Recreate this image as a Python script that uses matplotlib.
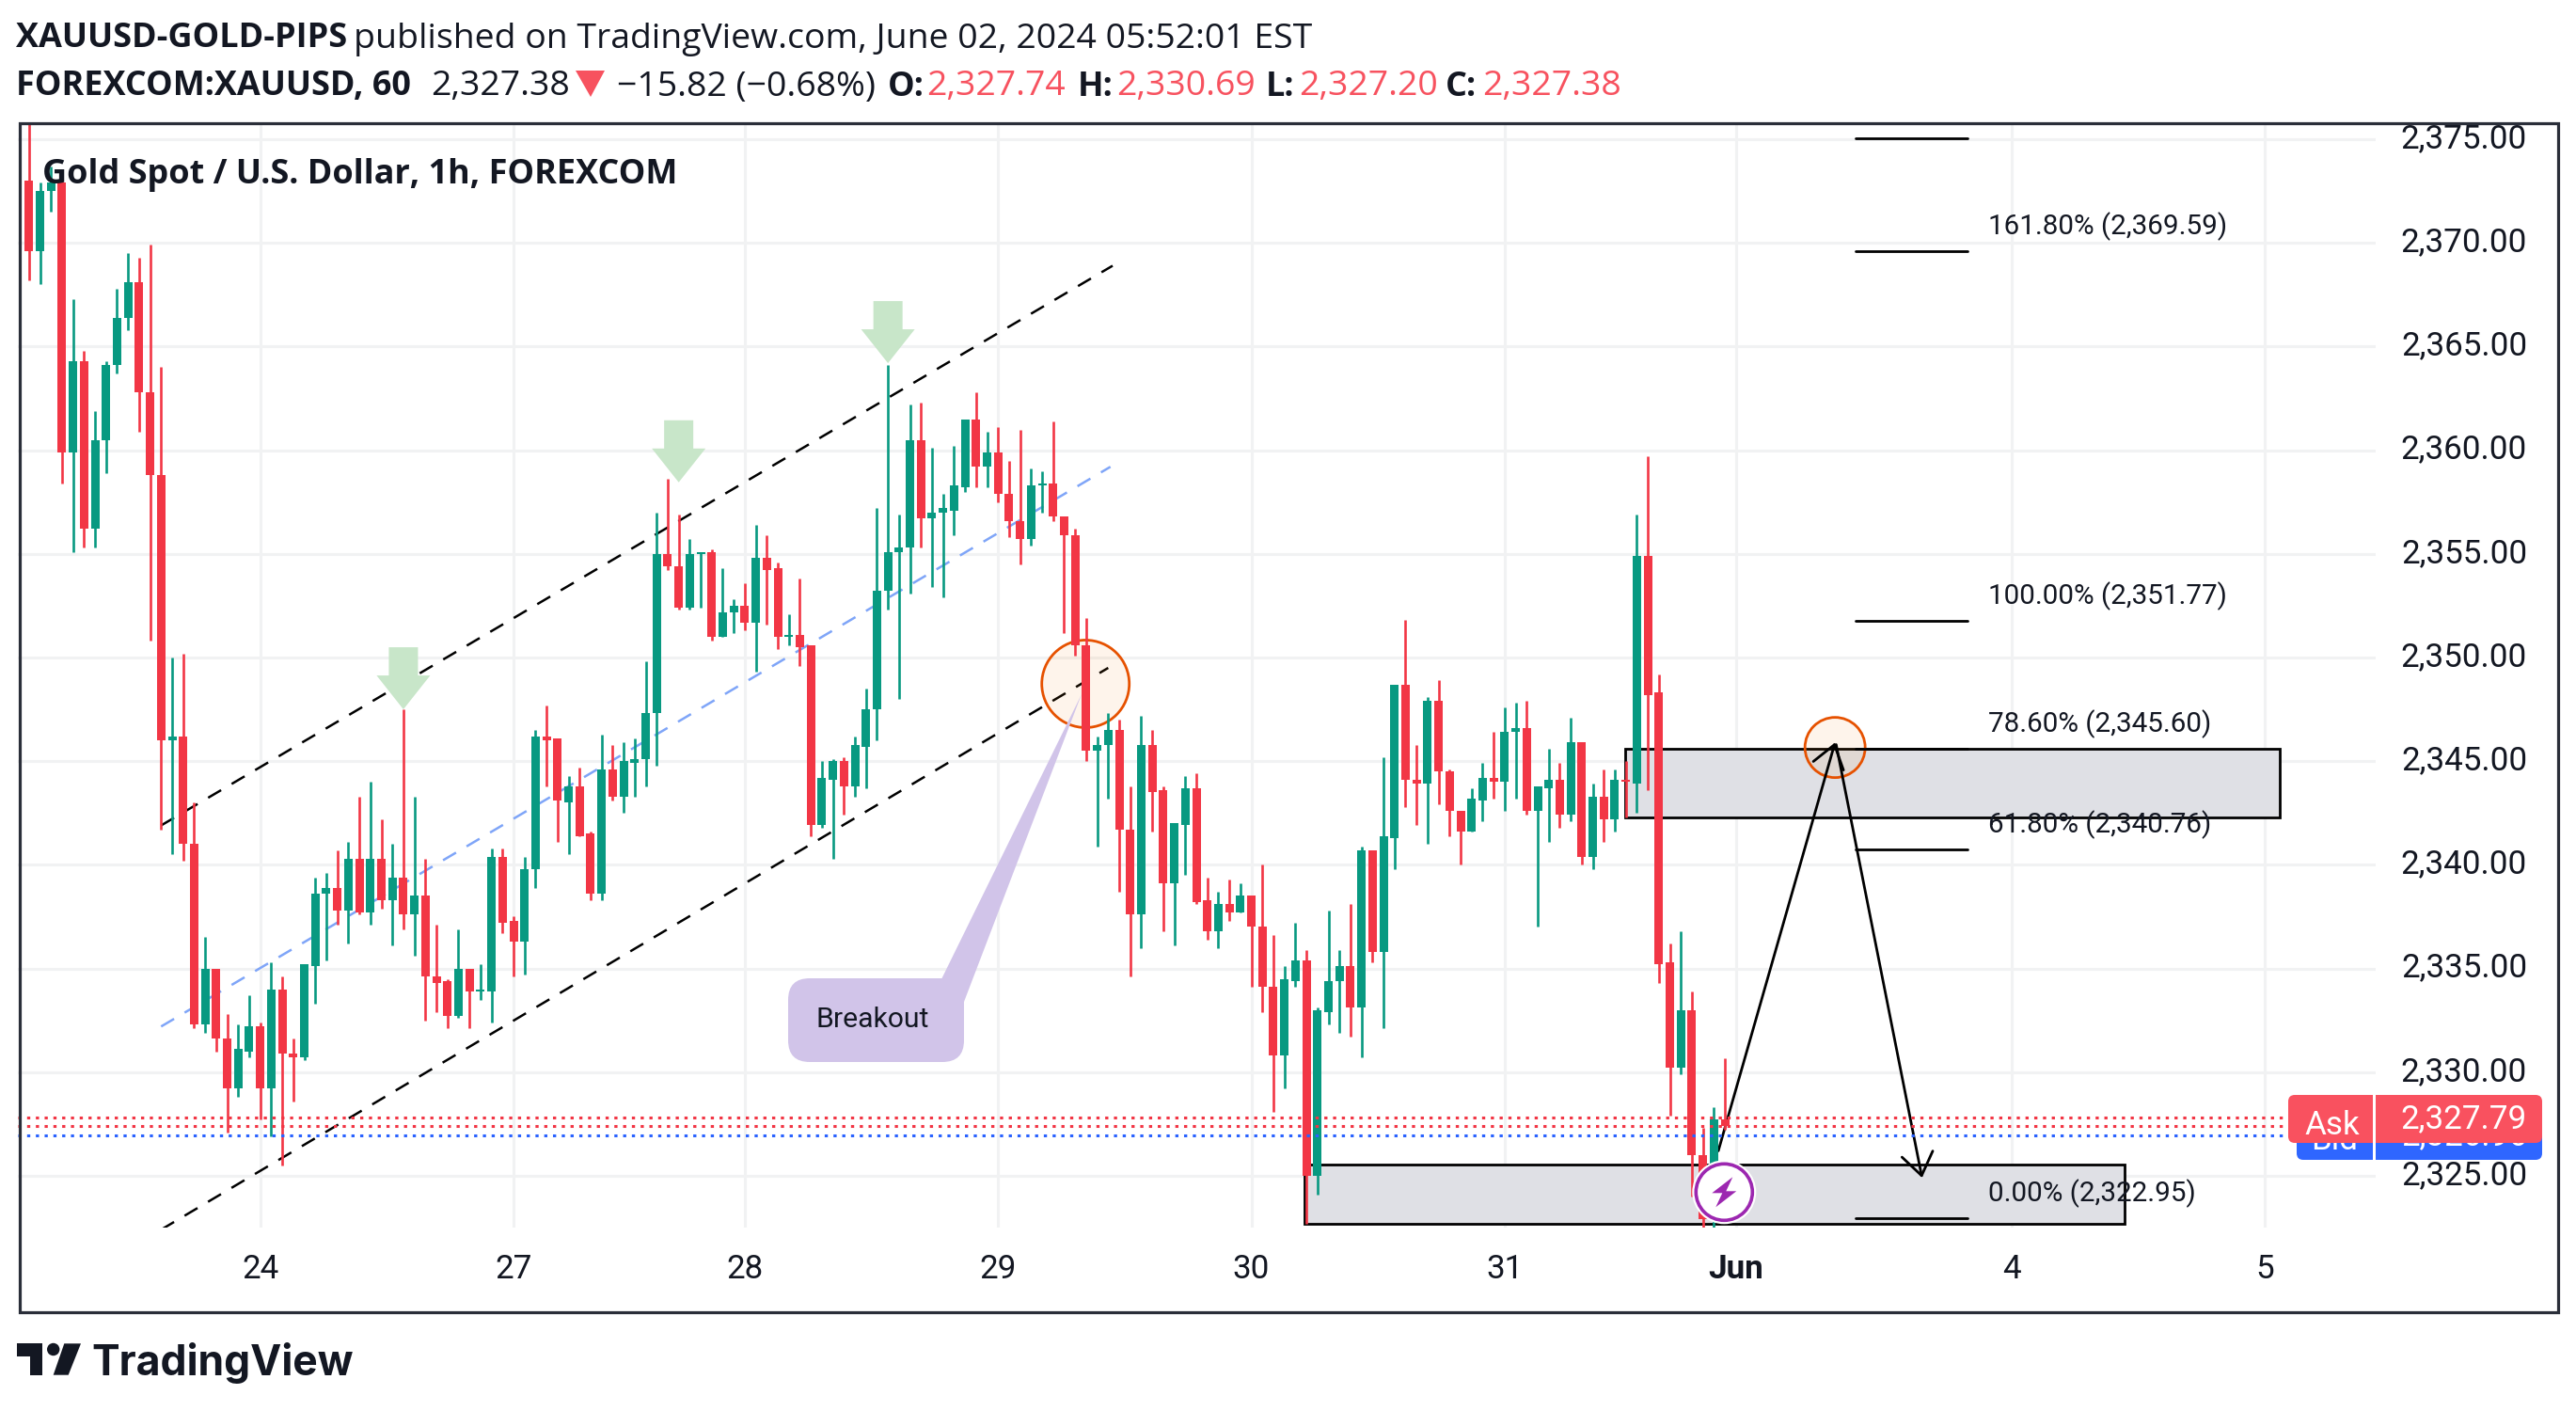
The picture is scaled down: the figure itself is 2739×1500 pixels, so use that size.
import numpy as np
import matplotlib
matplotlib.use('Agg')
import matplotlib.pyplot as plt
from matplotlib.patches import Rectangle, Ellipse, Polygon, FancyBboxPatch, Circle
from matplotlib.transforms import Affine2D

# hourly candles
opens = [2381.0, 2373.0, 2369.6, 2372.5, 2372.9, 2359.9, 2364.3, 2356.2, 2360.5, 2364.1,
         2366.4, 2368.1, 2362.8, 2358.8, 2346.0, 2346.2, 2341.0, 2332.3, 2335.0, 2331.6,
         2329.2, 2331.0, 2332.2, 2329.2, 2334.0, 2330.9, 2330.7, 2335.1, 2338.6, 2338.9,
         2337.8, 2340.3, 2337.7, 2340.3, 2338.3, 2339.4, 2337.6, 2338.5, 2334.6, 2334.4,
         2332.7, 2335.0, 2333.9, 2333.9, 2340.4, 2337.3, 2336.3, 2339.8, 2346.2, 2346.1,
         2343.0, 2343.8, 2341.5, 2338.6, 2344.6, 2343.3, 2344.9, 2345.1, 2347.3, 2355.0,
         2354.4, 2352.4, 2355.0, 2355.1, 2351.0, 2352.2, 2352.5, 2351.7, 2354.8, 2354.3,
         2351.0, 2351.1, 2350.6, 2341.9, 2344.1, 2345.0, 2343.8, 2345.7, 2347.5, 2353.2,
         2355.1, 2355.3, 2360.5, 2356.7, 2357.0, 2357.1, 2358.2, 2361.5, 2359.2, 2359.9,
         2357.9, 2356.6, 2355.7, 2358.3, 2358.4, 2356.8, 2355.9, 2350.6, 2345.5, 2345.8,
         2346.5, 2341.7, 2337.6, 2345.8, 2343.6, 2339.1, 2341.9, 2343.7, 2338.3, 2336.8,
         2338.1, 2337.7, 2338.5, 2337.0, 2334.1, 2330.8, 2334.4, 2335.4, 2325.0, 2332.9,
         2334.4, 2335.1, 2333.1, 2340.7, 2335.8, 2341.3, 2348.7, 2344.1, 2343.9, 2347.9,
         2344.5, 2342.6, 2341.6, 2343.1, 2344.2, 2344.0, 2346.4, 2346.6, 2342.6, 2343.7,
         2344.1, 2342.4, 2345.9, 2340.4, 2343.3, 2342.2, 2344.1, 2343.9, 2354.9, 2348.3,
         2335.3, 2330.2, 2333.0, 2326.0, 2324.0, 2327.74]
closes = [2380.0, 2369.6, 2372.5, 2372.9, 2359.9, 2364.3, 2356.2, 2360.5, 2364.1, 2366.4,
          2368.1, 2362.8, 2358.8, 2346.0, 2346.2, 2341.0, 2332.3, 2335.0, 2331.6, 2329.2,
          2331.1, 2332.2, 2329.2, 2334.0, 2330.9, 2330.7, 2335.2, 2338.6, 2338.9, 2337.8,
          2340.3, 2337.7, 2340.3, 2338.3, 2339.4, 2337.6, 2338.5, 2334.6, 2334.3, 2332.7,
          2335.0, 2333.9, 2334.0, 2340.4, 2337.2, 2336.3, 2339.8, 2346.2, 2346.0, 2343.1,
          2343.8, 2341.4, 2338.6, 2344.6, 2343.3, 2345.0, 2345.1, 2347.3, 2355.0, 2354.4,
          2352.4, 2355.0, 2355.1, 2351.0, 2352.2, 2352.5, 2351.7, 2354.8, 2354.2, 2351.0,
          2351.1, 2350.5, 2341.9, 2344.2, 2345.0, 2343.8, 2345.8, 2347.5, 2353.2, 2355.1,
          2355.3, 2360.5, 2356.7, 2357.0, 2357.2, 2358.3, 2361.5, 2359.2, 2359.9, 2357.9,
          2356.6, 2355.7, 2358.3, 2358.4, 2356.8, 2355.9, 2350.6, 2345.5, 2345.8, 2346.5,
          2341.7, 2337.6, 2345.8, 2343.5, 2339.1, 2342.0, 2343.7, 2338.2, 2336.8, 2338.1,
          2337.7, 2338.5, 2337.0, 2334.1, 2330.8, 2334.5, 2335.4, 2325.0, 2333.0, 2334.4,
          2335.1, 2333.1, 2340.7, 2335.8, 2341.4, 2348.7, 2344.1, 2343.9, 2347.9, 2344.5,
          2342.6, 2341.6, 2343.2, 2344.2, 2344.0, 2346.4, 2346.6, 2342.6, 2343.8, 2344.1,
          2342.4, 2345.9, 2340.4, 2343.3, 2342.2, 2344.1, 2344.0, 2354.9, 2348.2, 2335.2,
          2330.2, 2333.0, 2326.0, 2322.9, 2327.7, 2327.38]
highs = [2382.0, 2378.0, 2372.9, 2373.7, 2372.9, 2367.3, 2364.8, 2361.9, 2364.3, 2367.8,
         2369.5, 2369.3, 2369.9, 2364.0, 2350.0, 2350.2, 2343.0, 2336.5, 2335.0, 2332.8,
         2332.3, 2333.7, 2332.4, 2335.3, 2334.6, 2331.6, 2335.2, 2339.4, 2339.6, 2340.7,
         2341.1, 2343.3, 2344.0, 2342.2, 2341.0, 2347.5, 2343.3, 2340.3, 2337.1, 2334.5,
         2336.9, 2335.0, 2335.2, 2340.8, 2340.8, 2337.5, 2340.4, 2346.5, 2347.7, 2346.1,
         2344.3, 2344.7, 2341.6, 2346.3, 2345.8, 2345.9, 2346.1, 2349.8, 2357.0, 2358.6,
         2356.9, 2355.7, 2355.1, 2355.2, 2354.3, 2352.8, 2353.6, 2356.4, 2355.9, 2354.6,
         2352.1, 2353.8, 2350.6, 2345.0, 2345.1, 2345.2, 2346.2, 2348.5, 2357.2, 2364.1,
         2356.9, 2362.2, 2362.3, 2360.1, 2357.9, 2360.2, 2361.5, 2362.8, 2360.9, 2361.1,
         2359.5, 2361.0, 2359.1, 2359.0, 2361.4, 2356.8, 2356.2, 2351.9, 2346.2, 2347.3,
         2347.0, 2343.8, 2347.2, 2346.5, 2343.8, 2342.0, 2344.3, 2344.4, 2339.4, 2338.7,
         2339.3, 2339.1, 2338.5, 2340.0, 2336.6, 2335.1, 2337.2, 2335.9, 2333.1, 2337.8,
         2335.9, 2338.1, 2340.9, 2340.7, 2345.2, 2348.7, 2351.8, 2345.8, 2348.1, 2348.9,
         2344.6, 2342.6, 2343.7, 2344.9, 2346.4, 2347.6, 2347.8, 2347.9, 2343.8, 2345.6,
         2344.9, 2347.1, 2345.9, 2343.9, 2344.6, 2344.6, 2345.0, 2356.9, 2359.7, 2349.2,
         2336.2, 2336.8, 2333.9, 2327.3, 2328.3, 2330.69]
lows = [2373.0, 2368.2, 2368.0, 2371.5, 2358.4, 2355.1, 2355.3, 2355.3, 2358.9, 2363.7,
        2365.8, 2360.9, 2350.8, 2341.7, 2340.5, 2340.2, 2332.1, 2331.9, 2331.0, 2327.1,
        2328.8, 2330.7, 2327.7, 2326.9, 2325.5, 2328.6, 2330.6, 2333.3, 2335.4, 2337.1,
        2336.2, 2337.6, 2337.1, 2337.9, 2336.1, 2336.9, 2335.6, 2332.5, 2332.9, 2332.1,
        2332.6, 2332.1, 2333.5, 2332.4, 2336.7, 2334.6, 2334.7, 2338.9, 2343.8, 2341.1,
        2340.5, 2341.4, 2338.3, 2338.3, 2343.1, 2342.5, 2343.3, 2343.8, 2344.8, 2354.2,
        2352.3, 2352.3, 2352.4, 2350.8, 2351.0, 2351.2, 2351.3, 2349.3, 2351.6, 2350.4,
        2350.6, 2349.6, 2341.4, 2341.8, 2340.3, 2342.4, 2343.3, 2343.7, 2346.0, 2352.3,
        2348.0, 2353.1, 2355.3, 2353.4, 2352.9, 2355.9, 2358.0, 2358.2, 2358.2, 2357.5,
        2355.8, 2354.5, 2355.4, 2357.0, 2356.6, 2351.2, 2350.1, 2345.0, 2340.9, 2343.2,
        2338.7, 2334.6, 2336.0, 2341.6, 2336.8, 2336.1, 2339.5, 2338.1, 2336.4, 2336.0,
        2337.3, 2337.7, 2334.1, 2332.9, 2328.1, 2329.2, 2334.1, 2322.7, 2324.1, 2332.3,
        2331.9, 2331.7, 2330.7, 2335.3, 2332.1, 2339.8, 2342.8, 2341.9, 2341.0, 2342.9,
        2341.4, 2340.0, 2341.6, 2342.1, 2343.2, 2342.6, 2343.2, 2342.4, 2337.0, 2341.1,
        2341.8, 2342.1, 2340.0, 2339.8, 2341.1, 2341.6, 2342.3, 2342.5, 2343.6, 2334.3,
        2327.9, 2329.9, 2324.0, 2322.5, 2322.5, 2327.20]

price_ticks = [2325, 2330, 2335, 2340, 2345, 2350, 2355, 2360, 2365, 2370, 2375]
day_ticks = [22, 45, 66, 89, 112, 135, 156, 181, 204]
day_labels = ['24', '27', '28', '29', '30', '31', 'Jun', '4', '5']

ask_price = 2327.79
last_price = 2327.38
bid_price = 2326.96

fib_levels = [2322.95, 2340.76, 2345.60, 2351.77, 2369.59]
fib_labels = ['0.00% (2,322.95)', '61.80% (2,340.76)', '78.60% (2,345.60)',
              '100.00% (2,351.77)', '161.80% (2,369.59)']
fib_top_level = 2375.05

arrow_bars = [35, 60, 79]
arrow_tips = [2347.5, 2358.45, 2364.2]

GREEN = '#089981'
RED = '#F23645'
TAG_RED = '#F9515F'
BLUE = '#2F66FF'
INK = '#131722'
HDR_RED = '#F7525F'

W, H = 2739, 1500
PX_X = 11.71   # pixels per bar
PX_Y = 22.04   # pixels per dollar

fig = plt.figure(figsize=(W / 100, H / 100), dpi=100, facecolor='white')
ax = fig.add_axes([19 / W, (H - 1305) / H, (2526 - 19) / W, (1305 - 130) / H])
# image pixel coords, y down
px_tf = Affine2D().scale(1, -1).translate(0, H)

ax.set_xlim(-0.007, 214.09)
ax.set_ylim(2322.5, 2375.82)
for s in ax.spines.values():
    s.set_visible(False)
ax.set_axisbelow(True)
ax.grid(True, color='#F1F2F3', lw=2.2)

ax.yaxis.tick_right()
ax.set_yticks(price_ticks, [f'{p:,.2f}' for p in price_ticks])
ax.tick_params(axis='y', length=0, pad=116, labelsize=25.2, labelcolor=INK)
for lab in ax.get_yticklabels():
    lab.set_ha('right')
    lab.set_family('Roboto')
    lab.set_va('center_baseline')
    # labels sit a little above their grid line
    lab.set_transform(lab.get_transform() + Affine2D().translate(0, 4))
ax.set_xticks(day_ticks, day_labels)
ax.tick_params(axis='x', length=0, pad=20, labelsize=25.2, labelcolor=INK)
for lab in ax.get_xticklabels():
    lab.set_family('Roboto')
    if lab.get_text() == 'Jun':
        lab.set_weight('bold')

# drawings, all under the candles
def dashed(x0, y0, x1, y1, color):
    ax.plot([x0, x1], [y0, y1], color=color, lw=1.8, ls=(0, (6.4, 5.2)),
            dash_capstyle='butt', zorder=2)

dashed(13, 2341.9, 99.4, 2368.9, 'black')
dashed(13, 2332.2, 99.2, 2359.2, '#7FA5F8')
dashed(13, 2322.4, 99.0, 2349.5, 'black')

for bar, tip in zip(arrow_bars, arrow_tips):
    pts = [(0, 0), (28.5, 36), (15.5, 36), (15.5, 66), (-15.5, 66), (-15.5, 36), (-28.5, 36)]
    poly = [(bar + dx / PX_X, tip + dy / PX_Y) for dx, dy in pts]
    ax.add_patch(Polygon(poly, closed=True, fc='#C8E6C9', ec='none', zorder=2))

for x0, x1, y0, y1 in [(145.9, 205.4, 2342.3, 2345.6), (116.8, 191.3, 2322.7, 2325.55)]:
    ax.add_patch(Rectangle((x0, y0), x1 - x0, y1 - y0, fc='#DFE0E5', ec='black', lw=2.0, zorder=1.5))

for cx, cy, d in [(96.94, 2348.73, 93), (165.0, 2345.66, 64)]:
    ax.add_patch(Ellipse((cx, cy), d / PX_X, d / PX_Y, fc=(0.96, 0.49, 0.0, 0.08),
                         ec='#E65100', lw=2.0, zorder=2))

# callout
ax.add_patch(FancyBboxPatch((838, 1040), 187, 89, boxstyle='round,pad=0,rounding_size=23',
                            fc='#D1C4E9', ec='none', transform=px_tf, zorder=2))
ax.add_patch(Polygon([(1001, 1041), (1150, 738), (1025, 1065), (1001, 1080)], closed=True,
                     fc='#D1C4E9', ec='none', transform=px_tf, zorder=2))
ax.text(928, 1084, 'Breakout', transform=px_tf, ha='center', va='center', family='Roboto',
        fontsize=21.7, color=INK, zorder=2.5)

# fib levels
for lev, lab in zip(fib_levels, fib_labels):
    ax.plot([166.9, 177.0], [lev, lev], color='black', lw=2.0, solid_capstyle='round', zorder=2)
    ax.annotate(lab, (178.9, lev), xytext=(0, 19), textcoords='offset points', va='center',
                ha='left', family='Roboto', fontsize=21.3, color=INK, zorder=2.5)
ax.plot([166.9, 177.0], [fib_top_level, fib_top_level], color='black', lw=2.0,
        solid_capstyle='round', zorder=2)

# trade arrows
for start, end in [((154.4, 2326.2), (165.0, 2345.9)), ((165.1, 2345.8), (172.9, 2324.9))]:
    ax.annotate('', xy=end, xytext=start, zorder=2.2,
                arrowprops=dict(arrowstyle='->,head_length=0.7,head_width=0.5', color='black',
                                lw=2.0, shrinkA=0, shrinkB=0, mutation_scale=24))

# candles
bar_x = np.arange(len(opens), dtype=float)
bar_x[0] = 0.2
o = np.array(opens)
c = np.array(closes)
colors = [GREEN if cl >= op else RED for op, cl in zip(opens, closes)]
ax.vlines(bar_x, lows, highs, colors=colors, lw=1.9, zorder=3)
ax.bar(bar_x, np.maximum(np.abs(c - o), 0.1), bottom=np.minimum(o, c), width=0.77, color=colors, zorder=3)

# price lines over the candles
for p, col in [(ask_price, '#F23645'), (last_price, '#F23645'), (bid_price, '#2962FF')]:
    ax.axhline(p, color=col, lw=2.2, ls=(0, (1.1, 1.95)), dash_capstyle='butt', zorder=4)

# frame
fig.add_artist(Rectangle((20.5, 130.5), 2720 - 20.5, 1395 - 130.5, fc='none', ec='#2A2E39',
                         lw=2.3, transform=px_tf, zorder=3))

def tag(x0, x1, y0, y1, color, rounded_left):
    fig.add_artist(FancyBboxPatch((x0, y0), x1 - x0, y1 - y0, boxstyle='round,pad=0,rounding_size=7',
                                  fc=color, ec='none', transform=px_tf, zorder=tag.z))
    sx = x1 - 20 if rounded_left else x0
    fig.add_artist(Rectangle((sx, y0), 20, y1 - y0, fc=color, ec='none', transform=px_tf, zorder=tag.z))

def tag_text(x, y, s, ha):
    fig.text(x, y, s, transform=px_tf, ha=ha, va='center_baseline', family='Roboto', fontsize=25.2,
             color='white', zorder=tag.z + 0.1)

tag.z = 4
tag(2442, 2523, 1182, 1233, BLUE, True)
tag(2526, 2703, 1182, 1233, BLUE, False)
tag_text(2482, 1209, 'Bid', 'center')
tag_text(2687, 1204, f'{bid_price:,.2f}', 'right')
tag.z = 5
tag(2433, 2523, 1164, 1215, TAG_RED, True)
tag(2526, 2703, 1164, 1215, TAG_RED, False)
tag_text(2480, 1193, 'Ask', 'center')
tag_text(2687, 1186, f'{ask_price:,.2f}', 'right')

# alert badge
badge = (1833.3, 1267.3)
fig.add_artist(Circle(badge, 34, fc='white', ec='none', transform=px_tf, zorder=6))
fig.add_artist(Circle(badge, 30, fc='white', ec='#9C27B0', lw=2.6, transform=px_tf, zorder=6))
bolt = [(9, -16), (-13, 1), (-2, 1), (-9, 16), (13, -1), (2, -1)]
fig.add_artist(Polygon([(badge[0] + dx, badge[1] + dy) for dx, dy in bolt], closed=True,
                       fc='#9C27B0', ec='none', transform=px_tf, zorder=6))

# header
def hdr(x, y, s, bold=False, color=INK):
    fig.text(x, y, s, transform=px_tf, ha='left', va='center_baseline', family='Open Sans',
             fontweight='bold' if bold else 'normal', fontsize=25.9 if bold else 26.9,
             color=color, zorder=6)

hdr(17, 37, 'XAUUSD-GOLD-PIPS', True)
hdr(376, 37, 'published on TradingView.com, June 02, 2024 05:52:01 EST')
hdr(17, 88, 'FOREXCOM:XAUUSD, 60', True)
hdr(458, 88, '2,327.38')
fig.add_artist(Polygon([(612, 75), (643, 75), (628, 103)], closed=True, fc=HDR_RED, ec='none',
                       transform=px_tf, zorder=6))
hdr(656, 88, '\u221215.82 (\u22120.68%)')
hdr(944, 88, 'O:', True)
hdr(985, 88, '2,327.74', color=HDR_RED)
hdr(1146, 88, 'H:', True)
hdr(1187, 88, '2,330.69', color=HDR_RED)
hdr(1346, 88, 'L:', True)
hdr(1381, 88, '2,327.20', color=HDR_RED)
hdr(1537, 88, 'C:', True)
hdr(1576, 88, '2,327.38', color=HDR_RED)
hdr(45, 181, 'Gold Spot / U.S. Dollar, 1h, FOREXCOM', True)

# logo
logo_col = '#131722'
for pts in [[(18.3, 1428.3), (45, 1428.3), (45, 1461.7), (31.7, 1461.7), (31.7, 1441.7), (18.3, 1441.7)],
            [(68.3, 1428.3), (86, 1428.3), (72.7, 1461.7), (56.7, 1461.7)]]:
    fig.add_artist(Polygon(pts, closed=True, fc=logo_col, ec='none', transform=px_tf, zorder=6))
fig.add_artist(Circle((56.7, 1434.5), 6.7, fc=logo_col, ec='none', transform=px_tf, zorder=6))
fig.text(97, 1461.7, 'TradingView', transform=px_tf, ha='left', va='baseline', family='Inter',
         fontweight='bold', fontsize=32, color=logo_col, zorder=6)

fig.savefig('out.png', dpi=100)
